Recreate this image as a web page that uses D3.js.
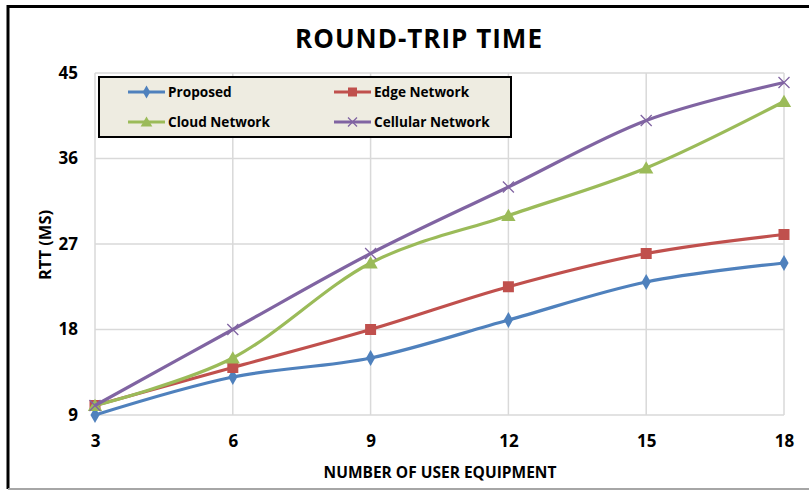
<!DOCTYPE html>
<html>
<head>
<meta charset="utf-8">
<script src="https://cdn.jsdelivr.net/npm/d3@7"></script>
<style>
  html, body { margin: 0; padding: 0; background: #fff; }
  svg { display: block; }
  text { font-family: "Open Sans", "Liberation Sans", sans-serif; font-weight: bold; fill: #000; }
</style>
</head>
<body>
<svg id="chart" width="809" height="491"></svg>
<script>
// Number of user equipment on the x axis
const userEquipment = [3, 6, 9, 12, 15, 18];
// Round-trip time (ms) per scheme
const proposed = [9, 13, 15, 19, 23, 25];
const edgeNetwork = [10, 14, 18, 22.5, 26, 28];
const cloudNetwork = [10, 15, 25, 30, 35, 42];
const cellularNetwork = [10, 18, 26, 33, 40, 44];
const yTicks = [9, 18, 27, 36, 45];
const seriesNames = ["Proposed", "Edge Network", "Cloud Network", "Cellular Network"];

const series = [
  { name: seriesNames[0], values: proposed, color: "#4F81BD", marker: "diamond" },
  { name: seriesNames[1], values: edgeNetwork, color: "#C0504D", marker: "square" },
  { name: seriesNames[2], values: cloudNetwork, color: "#9BBB59", marker: "triangle" },
  { name: seriesNames[3], values: cellularNetwork, color: "#8064A2", marker: "cross" }
];

const svg = d3.select("#chart");
const plot = { left: 95, right: 784, top: 73, bottom: 415 };

const x = d3.scaleLinear().domain([3, 18]).range([plot.left, plot.right]);
const y = d3.scaleLinear().domain([9, 45]).range([plot.bottom, plot.top]);

// outer frame
svg.append("path")
  .attr("d", `M8,489 L8,6.5 L812,6.5`)
  .attr("fill", "none").attr("stroke", "#000").attr("stroke-width", 3);
svg.append("line")
  .attr("x1", 8).attr("x2", 809).attr("y1", 489).attr("y2", 489)
  .attr("stroke", "#A6A6A6").attr("stroke-width", 2);

// title
svg.append("text")
  .attr("x", 419).attr("y", 48)
  .attr("text-anchor", "middle")
  .style("font-size", "26px")
  .style("letter-spacing", "1px")
  .text("ROUND-TRIP TIME");

// gridlines
const grid = svg.append("g");
grid.selectAll("line.h").data(yTicks).join("line")
  .attr("x1", plot.left).attr("x2", plot.right)
  .attr("y1", d => y(d)).attr("y2", d => y(d))
  .attr("stroke", "#D9D9D9").attr("stroke-width", 1.5);
grid.selectAll("line.v").data(userEquipment).join("line")
  .attr("x1", d => x(d)).attr("x2", d => x(d))
  .attr("y1", plot.top).attr("y2", plot.bottom)
  .attr("stroke", "#D9D9D9").attr("stroke-width", 1.5);

// axes (labels only, domain and ticks hidden)
const xAxis = svg.append("g")
  .attr("transform", `translate(0,${plot.bottom})`)
  .call(d3.axisBottom(x).tickValues(userEquipment).tickSize(0).tickPadding(20));
const yAxis = svg.append("g")
  .attr("transform", `translate(${plot.left},0)`)
  .call(d3.axisLeft(y).tickValues(yTicks).tickSize(0).tickPadding(17));
[xAxis, yAxis].forEach(a => {
  a.select(".domain").remove();
  a.selectAll("text").style("font-size", "17px").style("font-family", "\"Open Sans\", sans-serif").attr("fill", "#000");
});

// axis titles
svg.append("text")
  .attr("x", 440).attr("y", 478)
  .attr("text-anchor", "middle")
  .style("font-size", "15.5px")
  .text("NUMBER OF USER EQUIPMENT");
svg.append("text")
  .attr("transform", "translate(51,245) rotate(-90)")
  .attr("text-anchor", "middle")
  .style("font-size", "16.5px")
  .text("RTT (MS)");

// markers
function drawMarker(g, type, color, size) {
  if (type === "diamond") {
    g.append("path").attr("d", d3.symbol(d3.symbolDiamond, size * size * 0.6)())
      .attr("fill", color);
  } else if (type === "square") {
    g.append("rect").attr("x", -size / 2).attr("y", -size / 2)
      .attr("width", size).attr("height", size).attr("fill", color);
  } else if (type === "triangle") {
    const s = size * 0.62;
    g.append("path").attr("d", `M0,${-s} L${s * 1.05},${s * 0.8} L${-s * 1.05},${s * 0.8} Z`)
      .attr("fill", color);
  } else {
    const s = size / 2;
    g.append("path").attr("d", `M${-s},${-s} L${s},${s} M${-s},${s} L${s},${-s}`)
      .attr("stroke", color).attr("stroke-width", 1.3).attr("fill", "none");
  }
}

const line = d3.line()
  .x((d, i) => x(userEquipment[i]))
  .y(d => y(d))
  .curve(d3.curveCardinal.tension(0));

series.forEach(s => {
  svg.append("path")
    .datum(s.values)
    .attr("d", line)
    .attr("fill", "none")
    .attr("stroke", s.color)
    .attr("stroke-width", 3.2)
    .attr("stroke-linejoin", "round");
  svg.append("g").selectAll("g").data(s.values).join("g")
    .attr("transform", (d, i) => `translate(${x(userEquipment[i])},${y(d)})`)
    .each(function () { drawMarker(d3.select(this), s.marker, s.color, 11); });
});

// legend
const legend = svg.append("g");
legend.append("rect")
  .attr("x", 99).attr("y", 77).attr("width", 412).attr("height", 60)
  .attr("fill", "#EEECE1").attr("stroke", "#000").attr("stroke-width", 2);
const legendPos = [
  { x: 128, y: 92 }, { x: 334, y: 92 },
  { x: 128, y: 122 }, { x: 334, y: 122 }
];
series.forEach((s, i) => {
  const p = legendPos[i];
  const g = legend.append("g").attr("transform", `translate(${p.x},${p.y})`);
  g.append("line").attr("x1", 0).attr("x2", 37).attr("y1", 0).attr("y2", 0)
    .attr("stroke", s.color).attr("stroke-width", 3.2);
  const m = g.append("g").attr("transform", "translate(18.5,0)");
  drawMarker(m, s.marker, s.color, 9);
  g.append("text").attr("x", 40).attr("y", 5)
    .style("font-size", "13.6px")
    .text(s.name);
});
</script>
</body>
</html>
